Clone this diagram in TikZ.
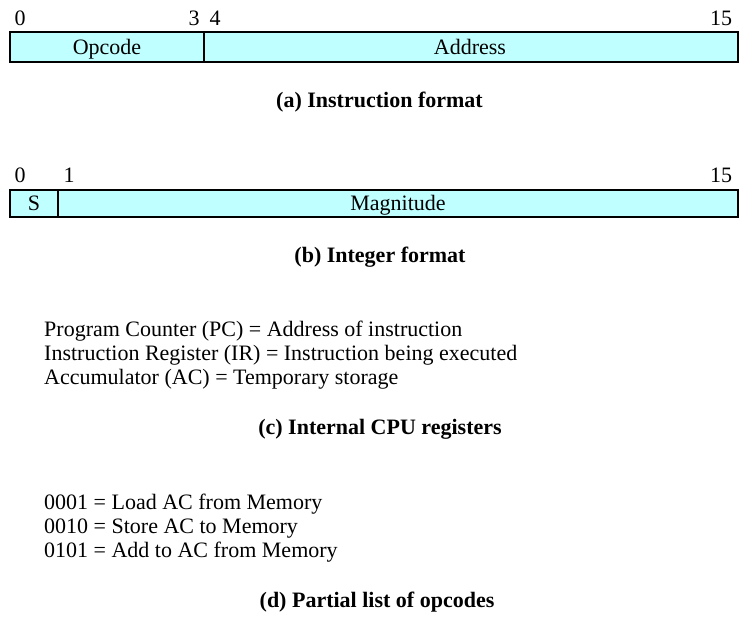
\documentclass[tikz,border=0pt]{standalone}
\usepackage{fontspec}
\setmainfont{Liberation Serif}
\definecolor{fieldfill}{HTML}{C0FFFF}
\begin{document}
\begin{tikzpicture}[x=1pt,y=-1pt,
  field/.style={draw=black,line width=1.8pt,fill=fieldfill},
  txt/.style={font=\fontsize{22}{25}\selectfont,inner sep=0pt},
  boxtxt/.style={txt,anchor=base},
  bitno/.style={txt,anchor=base},
  caption/.style={font=\bfseries\fontsize{22}{25}\selectfont,inner sep=0pt,anchor=base},
  line/.style={txt,anchor=base west}]
\useasboundingbox[fill=white] (0,0) rectangle (745,632);

% (a) instruction format
\draw[field] (10,32) rectangle (204,62);
\draw[field] (204,32) rectangle (738,62);
\node[boxtxt] (opc) at (107,54) {Opcode};
\node[boxtxt] (adr) at (470,54) {Address};
\node[bitno] (a0) at (20,25) {0};
\node[bitno] (a3) at (194,25) {3};
\node[bitno] (a4) at (215,25) {4};
\node[bitno] (a15) at (721,25) {15};
\node[caption] (capa) at (379.5,107) {(a) Instruction format};

% (b) integer format
\draw[field] (10,190) rectangle (58,217);
\draw[field] (58,190) rectangle (738,217);
\node[boxtxt] (sgn) at (34,210) {S};
\node[boxtxt] (mag) at (398,210) {Magnitude};
\node[bitno] (b0) at (20,182) {0};
\node[bitno] (b1) at (69,182) {1};
\node[bitno] (b15) at (721,182) {15};
\node[caption] (capb) at (380,262) {(b) Integer format};

% (c) internal CPU registers
\node[line] (pc) at (44,336) {Program Counter (PC) = Address of instruction};
\node[line] (ir) at (44,360) {Instruction Register (IR) = Instruction being executed};
\node[line] (ac) at (44,384) {Accumulator (AC) = Temporary storage};
\node[caption] (capc) at (380,434) {(c) Internal CPU registers};

% (d) partial list of opcodes
\node[line] (op1) at (44,509) {0001 = Load AC from Memory};
\node[line] (op2) at (44,533) {0010 = Store AC to Memory};
\node[line] (op5) at (44,557) {0101 = Add to AC from Memory};
\node[caption] (capd) at (377,607) {(d) Partial list of opcodes};
\end{tikzpicture}
\end{document}
